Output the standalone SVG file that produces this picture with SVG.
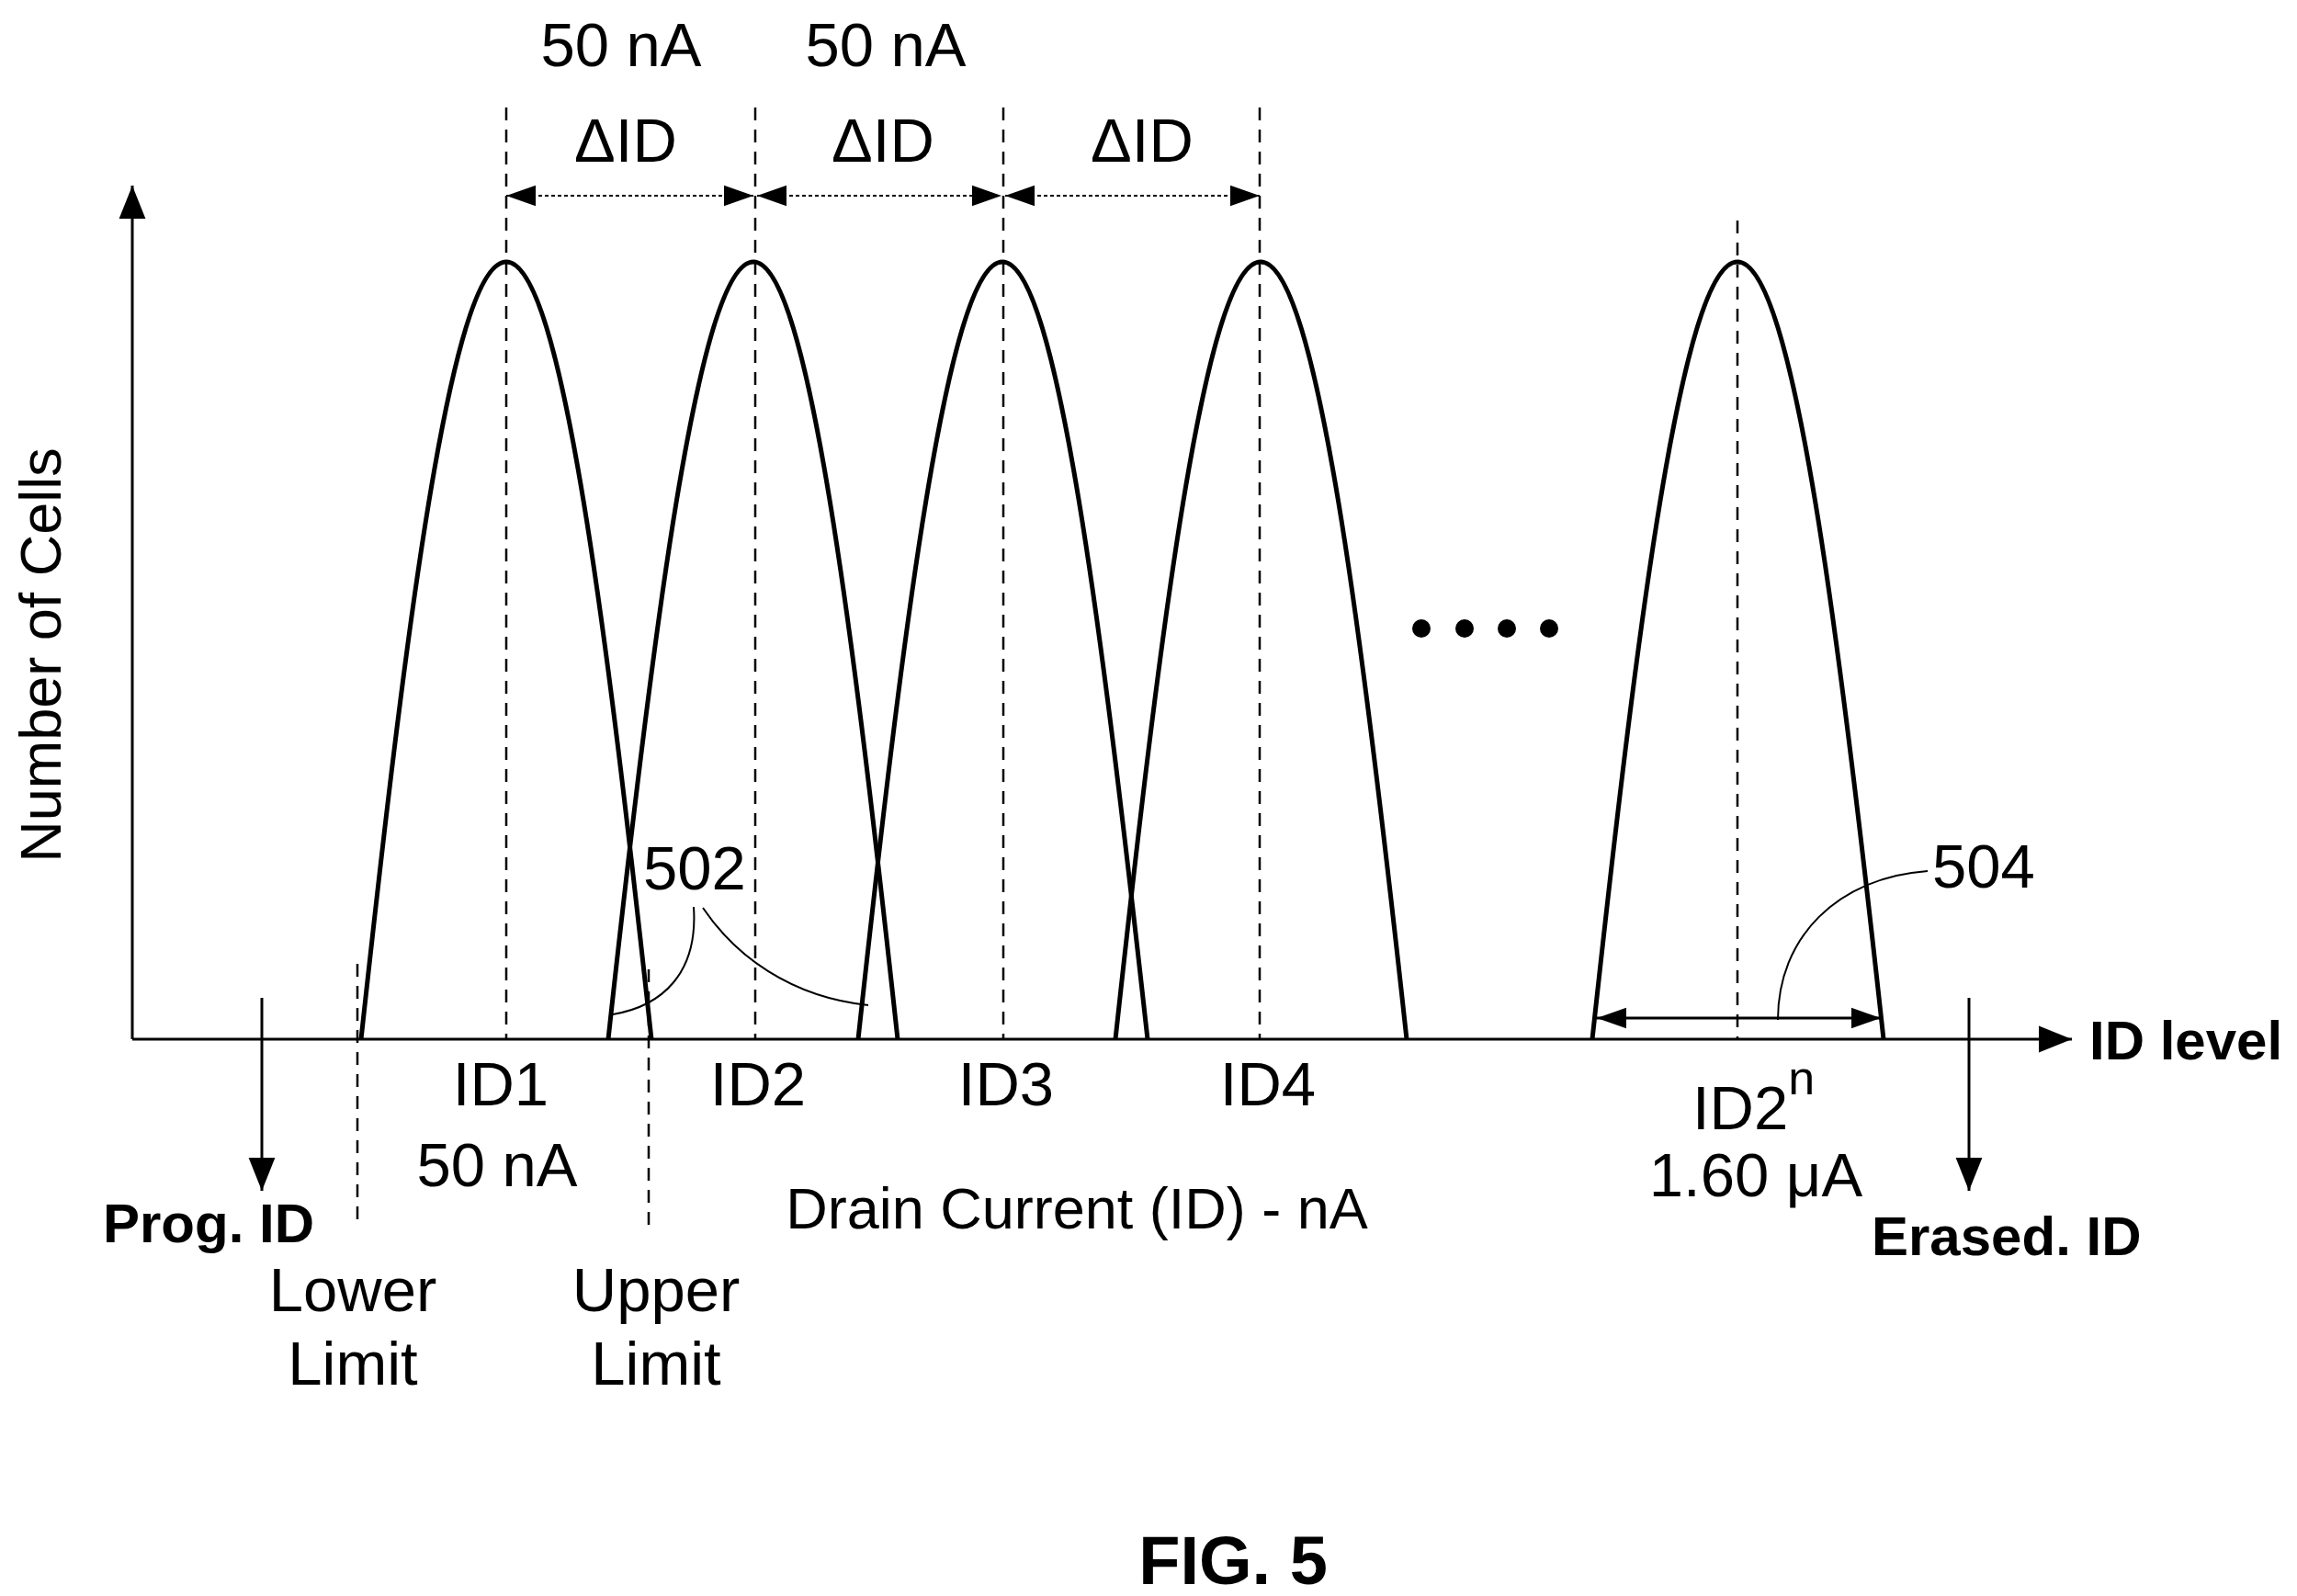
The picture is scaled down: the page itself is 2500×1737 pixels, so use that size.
<svg xmlns="http://www.w3.org/2000/svg" width="2500" height="1737" viewBox="0 0 2500 1737">
<style>
text{font-family:"Liberation Sans",Arial,sans-serif;fill:#000}
.t{font-size:67px}
.m{font-size:63px}
.b{font-size:60px;font-weight:bold}
.ln{stroke:#000;stroke-width:3;fill:none}
.dash{stroke:#000;stroke-width:2.5;stroke-dasharray:14,10;fill:none}
.dot{stroke:#000;stroke-width:2;stroke-dasharray:4,3;fill:none}
.curve{stroke:#000;stroke-width:5;fill:none}
.lead{stroke:#000;stroke-width:2;fill:none}
</style>
<defs>
<marker id="big" viewBox="0 0 10 10" refX="10" refY="5" markerWidth="36" markerHeight="36" markerUnits="userSpaceOnUse" orient="auto-start-reverse"><path d="M0,1 L10,5 L0,9 z"/></marker>
<marker id="sm" viewBox="0 0 10 10" refX="10" refY="5" markerWidth="32" markerHeight="32" markerUnits="userSpaceOnUse" orient="auto-start-reverse"><path d="M0,1.5 L10,5 L0,8.5 z"/></marker>
</defs>
<g id="axes">
<line class="ln" x1="144" y1="1131" x2="144" y2="202" marker-end="url(#big)"/>
<line class="ln" x1="144" y1="1131" x2="2255" y2="1131" marker-end="url(#big)"/>
<text class="m" transform="translate(66,713) rotate(-90)" text-anchor="middle">Number of Cells</text>
<text class="b" x="2274" y="1153">ID level</text>
<text class="m" x="1172" y="1337" text-anchor="middle">Drain Current (ID) - nA</text>
</g>
<g id="guides">
<line class="dash" x1="551" y1="117" x2="551" y2="1131"/>
<line class="dash" x1="822" y1="117" x2="822" y2="1131"/>
<line class="dash" x1="1092" y1="117" x2="1092" y2="1131"/>
<line class="dash" x1="1371" y1="117" x2="1371" y2="1131"/>
<line class="dash" x1="1891" y1="240" x2="1891" y2="1131"/>
<line class="dash" x1="389" y1="1049" x2="389" y2="1330"/>
<line class="dash" x1="706" y1="1055" x2="706" y2="1335"/>
</g>
<g id="curves">
<path class="curve" d="M393,1131 C440,700 490,285 551,285 C612,285 662,700 709,1131"/>
<path class="curve" d="M662,1131 C709,700 760,285 820,285 C880,285 930,700 977,1131"/>
<path class="curve" d="M934,1131 C981,700 1031,285 1091,285 C1151,285 1201,700 1249,1131"/>
<path class="curve" d="M1214,1131 C1261,700 1311,285 1372,285 C1433,285 1484,700 1531,1131"/>
<path class="curve" d="M1733,1131 C1780,700 1830,285 1891,285 C1952,285 2003,700 2050,1131"/>
</g>
<g id="dimensions">
<line class="dot" x1="551" y1="213" x2="820" y2="213" marker-start="url(#sm)" marker-end="url(#sm)"/>
<line class="dot" x1="824" y1="213" x2="1090" y2="213" marker-start="url(#sm)" marker-end="url(#sm)"/>
<line class="dot" x1="1094" y1="213" x2="1371" y2="213" marker-start="url(#sm)" marker-end="url(#sm)"/>
<text class="t" x="681" y="176" text-anchor="middle">ΔID</text>
<text class="t" x="961" y="176" text-anchor="middle">ΔID</text>
<text class="t" x="1243" y="176" text-anchor="middle">ΔID</text>
<text class="t" x="676" y="72" text-anchor="middle">50 nA</text>
<text class="t" x="964" y="72" text-anchor="middle">50 nA</text>
<line class="ln" x1="1738" y1="1108" x2="2047" y2="1108" marker-start="url(#sm)" marker-end="url(#sm)"/>
</g>
<g id="labels">
<text class="t" x="545" y="1203" text-anchor="middle">ID1</text>
<text class="t" x="541" y="1291" text-anchor="middle">50 nA</text>
<text class="t" x="825" y="1203" text-anchor="middle">ID2</text>
<text class="t" x="1095" y="1203" text-anchor="middle">ID3</text>
<text class="t" x="1380" y="1203" text-anchor="middle">ID4</text>
<text class="t" x="1842" y="1229">ID2<tspan dy="-38" style="font-size:52px">n</tspan></text>
<text class="t" x="1911" y="1302" text-anchor="middle">1.60 μA</text>
<text class="t" x="384" y="1427" text-anchor="middle">Lower</text>
<text class="t" x="384" y="1507" text-anchor="middle">Limit</text>
<text class="t" x="714" y="1427" text-anchor="middle">Upper</text>
<text class="t" x="714" y="1507" text-anchor="middle">Limit</text>
<text class="t" x="700" y="968">502</text>
<text class="t" x="2103" y="966">504</text>
<text style="font-size:74px;font-weight:bold" x="1342" y="1724" text-anchor="middle">FIG. 5</text>
</g>
<g id="prog">
<line class="ln" x1="285" y1="1086" x2="285" y2="1296" marker-end="url(#big)"/>
<text class="b" x="112" y="1352">Prog. ID</text>
</g>
<g id="erased">
<line class="ln" x1="2143" y1="1086" x2="2143" y2="1296" marker-end="url(#big)"/>
<text class="b" x="2037" y="1366">Erased. ID</text>
</g>
<g id="leaders">
<path class="lead" d="M755,987 C760,1060 720,1095 667,1104"/>
<path class="lead" d="M765,988 C800,1040 860,1085 945,1094"/>
<path class="lead" d="M2098,948 C2000,955 1935,1020 1935,1110"/>
</g>
<g id="dots">
<circle cx="1547" cy="684" r="10"/>
<circle cx="1594" cy="684" r="10"/>
<circle cx="1640" cy="684" r="10"/>
<circle cx="1686" cy="684" r="10"/>
</g>
</svg>
